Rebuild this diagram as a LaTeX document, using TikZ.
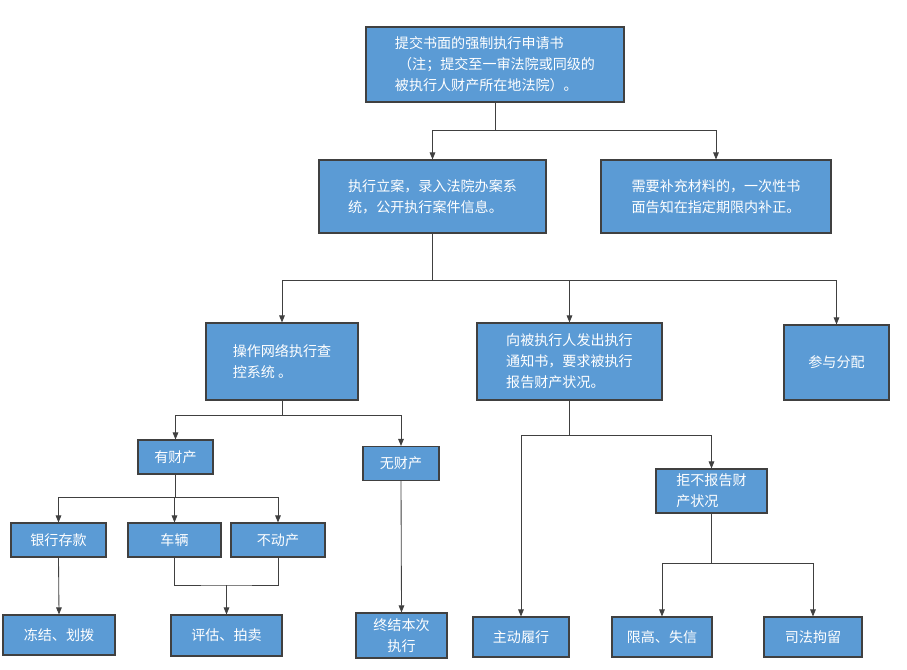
\documentclass[tikz,border=0pt]{standalone}
\usepackage{fontspec}
\setmainfont{Noto Sans CJK SC}
\usetikzlibrary{arrows.meta}
\definecolor{boxblue}{HTML}{5B9BD5}
\definecolor{boxline}{HTML}{404040}
\tikzset{
  flowbox/.style={draw=boxline, fill=boxblue, text=white, thick, inner sep=2pt,
    font=\fontsize{10pt}{15pt}\selectfont},
  flowboxl/.style={flowbox, align=left},
  link/.style={draw=boxline, semithick},
  arr/.style={link, -{Triangle[length=5pt,width=4pt]}},
}
\begin{document}
\begin{tikzpicture}[x=0.025cm, y=-0.025cm]
\useasboundingbox[fill=white] (0,0) rectangle (907,670);
% boxes
\node[flowboxl, minimum width=6.45cm, minimum height=1.875cm] (apply) at (495,64.5) {提交书面的强制执行申请书\\\ （注；提交至一审法院或同级的\\被执行人财产所在地法院）。};
\node[flowboxl, minimum width=5.675cm, minimum height=1.825cm] (file) at (432.5,196.5) {执行立案，录入法院办案系\\统，公开执行案件信息。};
\node[flowboxl, minimum width=5.75cm, minimum height=1.825cm] (supp) at (716,196.5) {需要补充材料的，一次性书\\面告知在指定期限内补正。};
\node[flowboxl, minimum width=3.8cm, minimum height=1.925cm] (query) at (282,361.5) {操作网络执行查\\控系统 。};
\node[flowboxl, minimum width=4.625cm, minimum height=1.925cm] (notice) at (569.5,361.5) {向被执行人发出执行\\通知书，要求被执行\\报告财产状况。};
\node[flowbox, minimum width=2.625cm, minimum height=1.875cm] (share) at (836.5,362.5) {参与分配};
\node[flowbox, minimum width=1.875cm, minimum height=0.85cm] (has) at (175.5,457) {有财产};
\node[flowbox, minimum width=1.9cm, minimum height=0.85cm] (none) at (401,463.5) {无财产};
\node[flowbox, minimum width=2.375cm, minimum height=0.85cm] (bank) at (58.5,540) {银行存款};
\node[flowbox, minimum width=2.325cm, minimum height=0.85cm] (car) at (174.5,540) {车辆};
\node[flowbox, minimum width=2.35cm, minimum height=0.85cm] (house) at (278,540) {不动产};
\node[flowboxl, minimum width=2.775cm, minimum height=1.1cm] (refuse) at (711.5,491) {拒不报告财\\产状况};
\node[flowbox, minimum width=2.8cm, minimum height=1cm] (freeze) at (59,635) {冻结、划拨};
\node[flowbox, minimum width=2.775cm, minimum height=1.025cm] (sell) at (226.5,635.5) {评估、拍卖};
\node[flowbox, align=center, minimum width=2.275cm, minimum height=1.125cm] (end) at (401.5,635.5) {终结本次\\执行};
\node[flowbox, minimum width=2.4cm, minimum height=1cm] (pay) at (521,637) {主动履行};
\node[flowbox, minimum width=2.5cm, minimum height=1cm] (limit) at (662,637) {限高、失信};
\node[flowbox, minimum width=2.45cm, minimum height=1cm] (detain) at (813,637) {司法拘留};
% junctions
\coordinate (j1) at (495,130);
\coordinate (j2) at (432.5,280);
\coordinate (j3) at (282,415);
\coordinate (j4) at (175.5,497);
\coordinate (j5) at (226.5,585);
\coordinate (j6) at (569.5,435);
\coordinate (j7) at (711.5,563);
% connectors
\draw[link] (apply.south) -- (j1);
\draw[arr] (j1) -| (file.north);
\draw[arr] (j1) -| (supp.north);
\draw[link] (file.south) -- (j2);
\draw[arr] (j2) -| (query.north);
\draw[arr] (j2) -| (notice.north);
\draw[arr] (j2) -| (share.north);
\draw[link] (query.south) -- (j3);
\draw[arr] (j3) -| (has.north);
\draw[arr] (j3) -| (none.north);
\draw[link] (has.south) -- (j4);
\draw[arr] (j4) -| (bank.north);
\draw[arr] (j4) -| (car.north);
\draw[arr] (j4) -| (house.north);
\draw[arr] (bank.south) -- (freeze.north);
\draw[link] (car.south) |- (j5) -| (house.south);
\draw[arr] (j5) -- (sell.north);
\draw[arr] (none.south) -- (end.north);
\draw[link] (notice.south) -- (j6);
\draw[arr] (j6) -| (refuse.north);
\draw[arr] (j6) -| (pay.north);
\draw[link] (refuse.south) -- (j7);
\draw[arr] (j7) -| (limit.north);
\draw[arr] (j7) -| (detain.north);
\end{tikzpicture}
\end{document}
